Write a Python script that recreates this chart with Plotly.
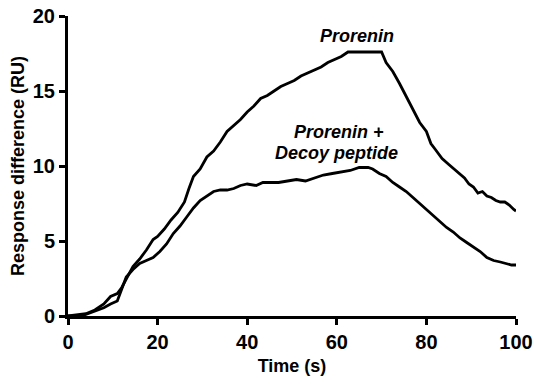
import plotly.graph_objects as go

pro_x = [0, 2, 4, 6, 8, 9.5, 11, 12, 13, 14.5, 16, 17.5, 19, 20, 21.5, 23, 24.5, 26, 27, 28, 29.5,
         31, 32.5, 34, 35.5, 37, 38.5, 40, 41.5, 43, 44.5, 46, 47.5, 49, 50.5, 52, 53.5, 55, 56.5,
         58, 59.5, 61, 62.5, 64, 66, 68, 70, 71, 72.5, 74, 75.5, 77, 78.5, 80, 81, 82, 83.5, 85,
         86.5, 87.5, 88.5, 89.5, 90.5, 91.5, 92.5, 93.5, 94.5, 95.5, 96.5, 97.5, 98.5, 99.5, 100]
pro_y = [0, 0.05, 0.15, 0.4, 0.8, 1.3, 1.5, 1.9, 2.5, 3.3, 3.8, 4.4, 5.1, 5.3, 5.8, 6.4, 6.9, 7.6, 8.5, 9.3, 9.8,
         10.6, 11.0, 11.6, 12.3, 12.7, 13.1, 13.6, 14.0, 14.5, 14.7, 15.0, 15.3, 15.5, 15.7, 16.0, 16.2, 16.4, 16.6,
         16.9, 17.1, 17.3, 17.6, 17.6, 17.6, 17.6, 17.6, 16.9, 16.3, 15.5, 14.6, 13.8, 12.9, 12.3, 11.5, 11.1, 10.5, 10.1,
         9.7, 9.4, 9.2, 8.8, 8.6, 8.2, 8.3, 8.0, 7.9, 7.7, 7.6, 7.6, 7.4, 7.1, 7.0]

decoy_x = [0, 2, 4, 6, 8, 9.5, 11, 12, 13, 14.5, 16, 17.5, 19, 20.5, 22, 23.5, 25, 26.5, 28, 29.5, 31,
           32.5, 34, 35.5, 37, 38.5, 40, 42, 43.5, 45, 47, 49, 51, 53, 55, 57, 59, 61, 63, 65, 67, 68,
           69.5, 71, 72.5, 74, 75.5, 77, 78.5, 80, 81.5, 83, 84.5, 86, 87.5, 89, 90.5, 92, 93.5, 95,
           96.5, 98, 99, 100]
decoy_y = [0, 0.0, 0.1, 0.3, 0.55, 0.8, 1.0, 1.8, 2.6, 3.1, 3.5, 3.7, 3.9, 4.3, 4.8, 5.5, 6.0, 6.6, 7.2, 7.7, 8.0,
           8.3, 8.4, 8.4, 8.5, 8.7, 8.8, 8.7, 8.9, 8.9, 8.9, 9.0, 9.1, 9.0, 9.2, 9.4, 9.5, 9.6, 9.7, 9.9, 9.9, 9.8,
           9.5, 9.3, 8.9, 8.6, 8.3, 7.9, 7.5, 7.1, 6.7, 6.3, 5.9, 5.6, 5.2, 4.9, 4.6, 4.3, 3.9, 3.7,
           3.6, 3.5, 3.4, 3.4]

x_ticks = [0, 20, 40, 60, 80, 100]
y_ticks = [0, 5, 10, 15, 20]

FONT = "Liberation Sans"

fig = go.Figure()
fig.add_trace(go.Scatter(x=pro_x, y=pro_y, mode="lines", line=dict(color="black", width=2.8), showlegend=False))
fig.add_trace(go.Scatter(x=decoy_x, y=decoy_y, mode="lines", line=dict(color="black", width=2.8), showlegend=False))

fig.add_annotation(x=64.5, y=18.7, text="<i>Prorenin</i>", showarrow=False,
                   font=dict(family=FONT, size=18, color="black", weight="bold"))
fig.add_annotation(x=60.5, y=12.3, text="<i>Prorenin +</i>", showarrow=False,
                   font=dict(family=FONT, size=18, color="black", weight="bold"))
fig.add_annotation(x=60.0, y=10.9, text="<i>Decoy peptide</i>", showarrow=False,
                   font=dict(family=FONT, size=18, color="black", weight="bold"))

axis_common = dict(showline=True, linecolor="black", linewidth=3, ticks="outside", ticklen=6,
                   tickwidth=2.5, tickcolor="black", showgrid=False, zeroline=False, automargin=False,
                   tickfont=dict(family=FONT, size=20, color="black", weight="bold"))

fig.update_xaxes(range=[0, 100], tickvals=x_ticks, ticktext=[str(v) for v in x_ticks],
                 title=dict(text="Time (s)", font=dict(family=FONT, size=18, color="black", weight="bold"), standoff=8),
                 **axis_common)
fig.update_yaxes(range=[0, 20], tickvals=y_ticks, ticktext=[str(v) for v in y_ticks],
                 title=dict(text="Response difference (RU)", font=dict(family=FONT, size=18, color="black", weight="bold"), standoff=4),
                 **axis_common)

fig.update_layout(width=534, height=386, margin=dict(l=68, r=18, t=16, b=70),
                  plot_bgcolor="white", paper_bgcolor="white")

fig.write_html("out.html")
